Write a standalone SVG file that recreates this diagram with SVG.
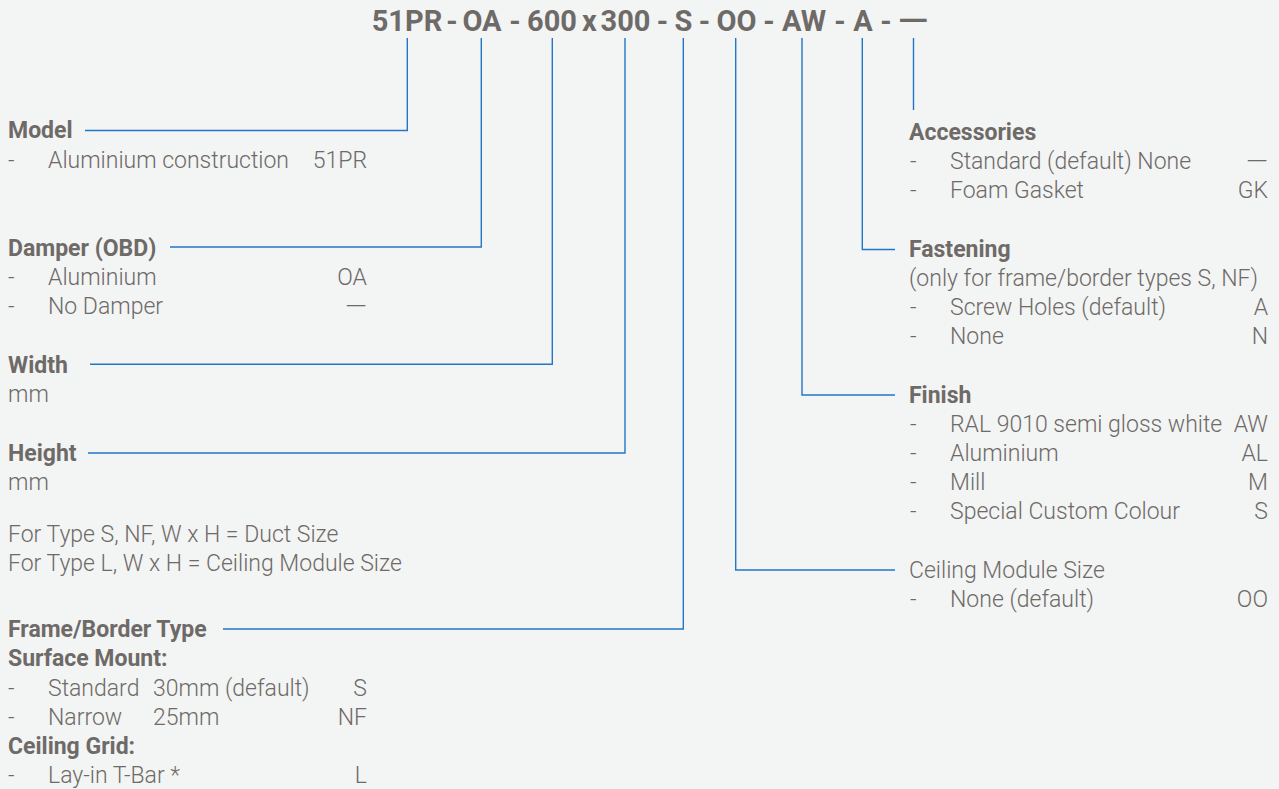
<svg xmlns="http://www.w3.org/2000/svg" width="1279" height="789" viewBox="0 0 1279 789">
<style>
text{font-family:Roboto,"Liberation Sans",sans-serif;fill:#6e6a67;font-size:23px;font-weight:300}
.h{font-weight:700}
.t{font-size:29px;font-weight:700;text-anchor:middle}
.e{text-anchor:end}
.c{fill:none;stroke:#2176c7;stroke-width:1.4}
</style>
<rect width="1279" height="789" fill="#f3f4f4"/>
<g id="title">
<text class="t" x="407" y="31">51PR</text>
<text class="t" x="452" y="31">-</text>
<text class="t" x="482" y="31">OA</text>
<text class="t" x="515" y="31">-</text>
<text class="t" x="552" y="31">600</text>
<text class="t" x="589.5" y="31">x</text>
<text class="t" x="625.5" y="31">300</text>
<text class="t" x="662.5" y="31">-</text>
<text class="t" x="683.5" y="31">S</text>
<text class="t" x="704.5" y="31">-</text>
<text class="t" x="736.5" y="31">OO</text>
<text class="t" x="769" y="31">-</text>
<text class="t" x="804" y="31">AW</text>
<text class="t" x="840" y="31">-</text>
<text class="t" x="863" y="31">A</text>
<text class="t" x="886" y="31">-</text>
<text class="t" x="913" y="31" textLength="30" lengthAdjust="spacingAndGlyphs">—</text>
</g>
<g id="connectors">
<path class="c" d="M407.3 38V130.5H85"/>
<path class="c" d="M481.3 38V247H170"/>
<path class="c" d="M552.3 38V364.3H90"/>
<path class="c" d="M625 38V453H88"/>
<path class="c" d="M683.3 38V629H223"/>
<path class="c" d="M735.7 38V570H895"/>
<path class="c" d="M802 38V395H895"/>
<path class="c" d="M862.3 38V249.5H895"/>
<path class="c" d="M913.5 38V110"/>
</g>
<g id="model">
<text class="h" x="8" y="138">Model</text>
<text x="8" y="168">-</text>
<text x="48" y="168">Aluminium construction</text>
<text class="e" x="367" y="168">51PR</text>
</g>
<g id="damper">
<text class="h" x="8" y="255.5">Damper (OBD)</text>
<text x="8" y="285">-</text>
<text x="48" y="285">Aluminium</text>
<text class="e" x="367" y="285">OA</text>
<text x="8" y="314">-</text>
<text x="48" y="314">No Damper</text>
<text class="e" x="367" y="314" textLength="22" lengthAdjust="spacingAndGlyphs">—</text>
</g>
<g id="width">
<text class="h" x="8" y="372.5">Width</text>
<text x="8" y="402">mm</text>
</g>
<g id="height">
<text class="h" x="8" y="461">Height</text>
<text x="8" y="490">mm</text>
</g>
<g id="note">
<text x="8" y="542">For Type S, NF, W x H = Duct Size</text>
<text x="8" y="571">For Type L, W x H = Ceiling Module Size</text>
</g>
<g id="frame">
<text class="h" x="8" y="637">Frame/Border Type</text>
<text class="h" x="8" y="666">Surface Mount:</text>
<text x="8" y="696">-</text>
<text x="48" y="696">Standard</text>
<text x="153" y="696">30mm (default)</text>
<text class="e" x="367" y="696">S</text>
<text x="8" y="725">-</text>
<text x="48" y="725">Narrow</text>
<text x="153" y="725">25mm</text>
<text class="e" x="367" y="725">NF</text>
<text class="h" x="8" y="754">Ceiling Grid:</text>
<text x="8" y="783">-</text>
<text x="48" y="783">Lay-in T-Bar *</text>
<text class="e" x="367" y="783">L</text>
</g>
<g id="accessories">
<text class="h" x="909" y="140">Accessories</text>
<text x="910" y="169">-</text>
<text x="950" y="169">Standard (default) None</text>
<text class="e" x="1268" y="169" textLength="22" lengthAdjust="spacingAndGlyphs">—</text>
<text x="910" y="198">-</text>
<text x="950" y="198">Foam Gasket</text>
<text class="e" x="1268" y="198">GK</text>
</g>
<g id="fastening">
<text class="h" x="909" y="257">Fastening</text>
<text x="909" y="286">(only for frame/border types S, NF)</text>
<text x="910" y="315">-</text>
<text x="950" y="315">Screw Holes (default)</text>
<text class="e" x="1268" y="315">A</text>
<text x="910" y="344">-</text>
<text x="950" y="344">None</text>
<text class="e" x="1268" y="344">N</text>
</g>
<g id="finish">
<text class="h" x="909" y="403">Finish</text>
<text x="910" y="432">-</text>
<text x="950" y="432">RAL 9010 semi gloss white</text>
<text class="e" x="1268" y="432">AW</text>
<text x="910" y="461">-</text>
<text x="950" y="461">Aluminium</text>
<text class="e" x="1268" y="461">AL</text>
<text x="910" y="490">-</text>
<text x="950" y="490">Mill</text>
<text class="e" x="1268" y="490">M</text>
<text x="910" y="519">-</text>
<text x="950" y="519">Special Custom Colour</text>
<text class="e" x="1268" y="519">S</text>
</g>
<g id="ceiling">
<text x="909" y="578">Ceiling Module Size</text>
<text x="910" y="607">-</text>
<text x="950" y="607">None (default)</text>
<text class="e" x="1268" y="607">OO</text>
</g>
</svg>
